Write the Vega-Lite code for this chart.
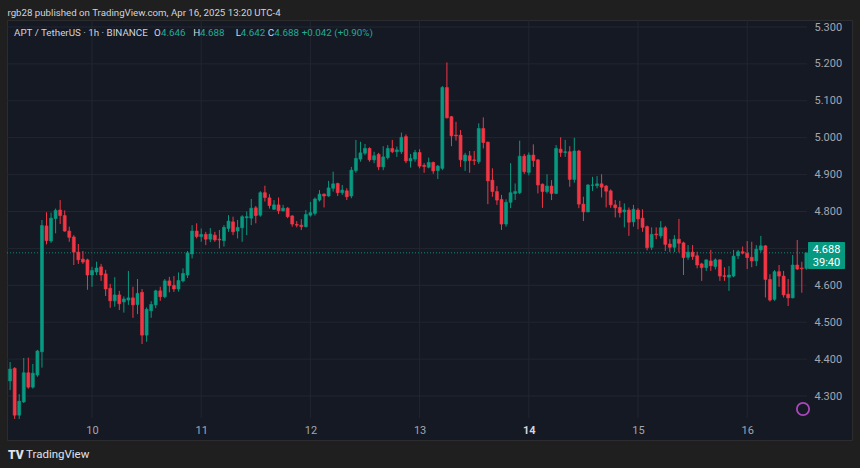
{
  "$schema": "https://vega.github.io/schema/vega-lite/v6.json",
  "width": 845,
  "height": 420,
  "autosize": {"type": "none"},
  "padding": {"left": 7, "top": 20, "right": 8, "bottom": 28},
  "background": "#1f1f1f",
  "config": {
    "view": {"fill": "#151924", "stroke": "#2c2c2e", "strokeWidth": 1},
    "font": "Roboto",
    "axis": {"titleOpacity": 0, "grid": false, "domain": false, "ticks": false, "tickSize": 0, "labelFont": "Roboto", "labelFontSize": 11}
  },
  "datasets": {
    "candles": [
      {"t":"2025-04-09T06:00Z","o":4.341,"h":4.392,"l":4.316,"c":4.373},
      {"t":"2025-04-09T07:00Z","o":4.375,"h":4.378,"l":4.238,"c":4.248},
      {"t":"2025-04-09T08:00Z","o":4.248,"h":4.305,"l":4.238,"c":4.286},
      {"t":"2025-04-09T09:00Z","o":4.284,"h":4.403,"l":4.281,"c":4.363},
      {"t":"2025-04-09T10:00Z","o":4.363,"h":4.404,"l":4.320,"c":4.324},
      {"t":"2025-04-09T11:00Z","o":4.324,"h":4.387,"l":4.320,"c":4.362},
      {"t":"2025-04-09T12:00Z","o":4.357,"h":4.425,"l":4.352,"c":4.422},
      {"t":"2025-04-09T13:00Z","o":4.420,"h":4.777,"l":4.377,"c":4.762},
      {"t":"2025-04-09T14:00Z","o":4.761,"h":4.798,"l":4.711,"c":4.721},
      {"t":"2025-04-09T15:00Z","o":4.720,"h":4.797,"l":4.715,"c":4.782},
      {"t":"2025-04-09T16:00Z","o":4.781,"h":4.808,"l":4.741,"c":4.803},
      {"t":"2025-04-09T17:00Z","o":4.804,"h":4.831,"l":4.766,"c":4.789},
      {"t":"2025-04-09T18:00Z","o":4.789,"h":4.803,"l":4.745,"c":4.747},
      {"t":"2025-04-09T19:00Z","o":4.747,"h":4.759,"l":4.718,"c":4.730},
      {"t":"2025-04-09T20:00Z","o":4.731,"h":4.736,"l":4.655,"c":4.690},
      {"t":"2025-04-09T21:00Z","o":4.690,"h":4.712,"l":4.658,"c":4.669},
      {"t":"2025-04-09T22:00Z","o":4.671,"h":4.693,"l":4.658,"c":4.663},
      {"t":"2025-04-09T23:00Z","o":4.669,"h":4.672,"l":4.588,"c":4.628},
      {"t":"2025-04-10T00:00Z","o":4.628,"h":4.650,"l":4.596,"c":4.640},
      {"t":"2025-04-10T01:00Z","o":4.636,"h":4.664,"l":4.628,"c":4.647},
      {"t":"2025-04-10T02:00Z","o":4.650,"h":4.658,"l":4.612,"c":4.628},
      {"t":"2025-04-10T03:00Z","o":4.631,"h":4.642,"l":4.571,"c":4.590},
      {"t":"2025-04-10T04:00Z","o":4.592,"h":4.604,"l":4.539,"c":4.558},
      {"t":"2025-04-10T05:00Z","o":4.558,"h":4.622,"l":4.542,"c":4.574},
      {"t":"2025-04-10T06:00Z","o":4.574,"h":4.585,"l":4.533,"c":4.550},
      {"t":"2025-04-10T07:00Z","o":4.555,"h":4.570,"l":4.526,"c":4.563},
      {"t":"2025-04-10T08:00Z","o":4.560,"h":4.639,"l":4.547,"c":4.566},
      {"t":"2025-04-10T09:00Z","o":4.566,"h":4.596,"l":4.512,"c":4.547},
      {"t":"2025-04-10T10:00Z","o":4.548,"h":4.617,"l":4.522,"c":4.578},
      {"t":"2025-04-10T11:00Z","o":4.581,"h":4.590,"l":4.441,"c":4.465},
      {"t":"2025-04-10T12:00Z","o":4.465,"h":4.540,"l":4.447,"c":4.535},
      {"t":"2025-04-10T13:00Z","o":4.531,"h":4.557,"l":4.512,"c":4.548},
      {"t":"2025-04-10T14:00Z","o":4.547,"h":4.588,"l":4.538,"c":4.585},
      {"t":"2025-04-10T15:00Z","o":4.585,"h":4.596,"l":4.558,"c":4.569},
      {"t":"2025-04-10T16:00Z","o":4.569,"h":4.617,"l":4.565,"c":4.612},
      {"t":"2025-04-10T17:00Z","o":4.612,"h":4.623,"l":4.581,"c":4.599},
      {"t":"2025-04-10T18:00Z","o":4.600,"h":4.625,"l":4.582,"c":4.590},
      {"t":"2025-04-10T19:00Z","o":4.590,"h":4.635,"l":4.583,"c":4.613},
      {"t":"2025-04-10T20:00Z","o":4.612,"h":4.646,"l":4.608,"c":4.632},
      {"t":"2025-04-10T21:00Z","o":4.628,"h":4.693,"l":4.620,"c":4.688},
      {"t":"2025-04-10T22:00Z","o":4.685,"h":4.763,"l":4.673,"c":4.747},
      {"t":"2025-04-10T23:00Z","o":4.747,"h":4.768,"l":4.727,"c":4.732},
      {"t":"2025-04-11T00:00Z","o":4.732,"h":4.754,"l":4.718,"c":4.738},
      {"t":"2025-04-11T01:00Z","o":4.738,"h":4.745,"l":4.709,"c":4.725},
      {"t":"2025-04-11T02:00Z","o":4.725,"h":4.755,"l":4.717,"c":4.739},
      {"t":"2025-04-11T03:00Z","o":4.736,"h":4.745,"l":4.718,"c":4.723},
      {"t":"2025-04-11T04:00Z","o":4.725,"h":4.750,"l":4.700,"c":4.723},
      {"t":"2025-04-11T05:00Z","o":4.721,"h":4.763,"l":4.705,"c":4.757},
      {"t":"2025-04-11T06:00Z","o":4.754,"h":4.790,"l":4.745,"c":4.774},
      {"t":"2025-04-11T07:00Z","o":4.772,"h":4.786,"l":4.736,"c":4.745},
      {"t":"2025-04-11T08:00Z","o":4.747,"h":4.777,"l":4.727,"c":4.757},
      {"t":"2025-04-11T09:00Z","o":4.756,"h":4.790,"l":4.718,"c":4.786},
      {"t":"2025-04-11T10:00Z","o":4.783,"h":4.800,"l":4.736,"c":4.786},
      {"t":"2025-04-11T11:00Z","o":4.782,"h":4.834,"l":4.763,"c":4.809},
      {"t":"2025-04-11T12:00Z","o":4.810,"h":4.815,"l":4.768,"c":4.789},
      {"t":"2025-04-11T13:00Z","o":4.790,"h":4.855,"l":4.786,"c":4.851},
      {"t":"2025-04-11T14:00Z","o":4.851,"h":4.870,"l":4.827,"c":4.838},
      {"t":"2025-04-11T15:00Z","o":4.837,"h":4.847,"l":4.808,"c":4.816},
      {"t":"2025-04-11T16:00Z","o":4.806,"h":4.831,"l":4.804,"c":4.818},
      {"t":"2025-04-11T17:00Z","o":4.818,"h":4.838,"l":4.793,"c":4.802},
      {"t":"2025-04-11T18:00Z","o":4.802,"h":4.818,"l":4.800,"c":4.809},
      {"t":"2025-04-11T19:00Z","o":4.809,"h":4.812,"l":4.782,"c":4.786},
      {"t":"2025-04-11T20:00Z","o":4.788,"h":4.790,"l":4.759,"c":4.766},
      {"t":"2025-04-11T21:00Z","o":4.765,"h":4.774,"l":4.757,"c":4.763},
      {"t":"2025-04-11T22:00Z","o":4.763,"h":4.779,"l":4.750,"c":4.759},
      {"t":"2025-04-11T23:00Z","o":4.759,"h":4.804,"l":4.757,"c":4.792},
      {"t":"2025-04-12T00:00Z","o":4.790,"h":4.826,"l":4.786,"c":4.797},
      {"t":"2025-04-12T01:00Z","o":4.795,"h":4.838,"l":4.789,"c":4.834},
      {"t":"2025-04-12T02:00Z","o":4.831,"h":4.858,"l":4.827,"c":4.847},
      {"t":"2025-04-12T03:00Z","o":4.847,"h":4.849,"l":4.811,"c":4.842},
      {"t":"2025-04-12T04:00Z","o":4.842,"h":4.883,"l":4.840,"c":4.864},
      {"t":"2025-04-12T05:00Z","o":4.863,"h":4.908,"l":4.854,"c":4.875},
      {"t":"2025-04-12T06:00Z","o":4.876,"h":4.878,"l":4.842,"c":4.851},
      {"t":"2025-04-12T07:00Z","o":4.851,"h":4.872,"l":4.845,"c":4.858},
      {"t":"2025-04-12T08:00Z","o":4.856,"h":4.863,"l":4.831,"c":4.840},
      {"t":"2025-04-12T09:00Z","o":4.842,"h":4.921,"l":4.836,"c":4.912},
      {"t":"2025-04-12T10:00Z","o":4.911,"h":4.994,"l":4.905,"c":4.944},
      {"t":"2025-04-12T11:00Z","o":4.942,"h":4.989,"l":4.935,"c":4.959},
      {"t":"2025-04-12T12:00Z","o":4.958,"h":4.983,"l":4.953,"c":4.971},
      {"t":"2025-04-12T13:00Z","o":4.971,"h":4.974,"l":4.935,"c":4.940},
      {"t":"2025-04-12T14:00Z","o":4.940,"h":4.962,"l":4.931,"c":4.951},
      {"t":"2025-04-12T15:00Z","o":4.955,"h":4.959,"l":4.912,"c":4.921},
      {"t":"2025-04-12T16:00Z","o":4.921,"h":4.977,"l":4.912,"c":4.948},
      {"t":"2025-04-12T17:00Z","o":4.946,"h":4.980,"l":4.941,"c":4.971},
      {"t":"2025-04-12T18:00Z","o":4.971,"h":4.994,"l":4.958,"c":4.962},
      {"t":"2025-04-12T19:00Z","o":4.962,"h":4.976,"l":4.948,"c":4.967},
      {"t":"2025-04-12T20:00Z","o":4.962,"h":5.014,"l":4.956,"c":5.001},
      {"t":"2025-04-12T21:00Z","o":5.003,"h":5.009,"l":4.931,"c":4.937},
      {"t":"2025-04-12T22:00Z","o":4.937,"h":4.956,"l":4.919,"c":4.944},
      {"t":"2025-04-12T23:00Z","o":4.942,"h":4.967,"l":4.935,"c":4.960},
      {"t":"2025-04-13T00:00Z","o":4.960,"h":4.969,"l":4.917,"c":4.923},
      {"t":"2025-04-13T01:00Z","o":4.925,"h":4.931,"l":4.905,"c":4.922},
      {"t":"2025-04-13T02:00Z","o":4.920,"h":4.946,"l":4.917,"c":4.933},
      {"t":"2025-04-13T03:00Z","o":4.933,"h":4.935,"l":4.902,"c":4.910},
      {"t":"2025-04-13T04:00Z","o":4.911,"h":4.926,"l":4.888,"c":4.923},
      {"t":"2025-04-13T05:00Z","o":4.917,"h":5.140,"l":4.912,"c":5.136},
      {"t":"2025-04-13T06:00Z","o":5.136,"h":5.204,"l":5.052,"c":5.054},
      {"t":"2025-04-13T07:00Z","o":5.057,"h":5.059,"l":4.977,"c":5.005},
      {"t":"2025-04-13T08:00Z","o":5.007,"h":5.043,"l":4.992,"c":5.005},
      {"t":"2025-04-13T09:00Z","o":5.007,"h":5.021,"l":4.921,"c":4.940},
      {"t":"2025-04-13T10:00Z","o":4.937,"h":4.959,"l":4.910,"c":4.953},
      {"t":"2025-04-13T11:00Z","o":4.951,"h":4.964,"l":4.905,"c":4.938},
      {"t":"2025-04-13T12:00Z","o":4.940,"h":4.964,"l":4.926,"c":4.938},
      {"t":"2025-04-13T13:00Z","o":4.935,"h":5.039,"l":4.929,"c":5.025},
      {"t":"2025-04-13T14:00Z","o":5.025,"h":5.055,"l":4.971,"c":4.987},
      {"t":"2025-04-13T15:00Z","o":4.988,"h":4.989,"l":4.820,"c":4.883},
      {"t":"2025-04-13T16:00Z","o":4.885,"h":4.917,"l":4.840,"c":4.854},
      {"t":"2025-04-13T17:00Z","o":4.854,"h":4.869,"l":4.818,"c":4.831},
      {"t":"2025-04-13T18:00Z","o":4.833,"h":4.845,"l":4.750,"c":4.766},
      {"t":"2025-04-13T19:00Z","o":4.766,"h":4.833,"l":4.759,"c":4.825},
      {"t":"2025-04-13T20:00Z","o":4.825,"h":4.931,"l":4.809,"c":4.851},
      {"t":"2025-04-13T21:00Z","o":4.849,"h":4.876,"l":4.831,"c":4.854},
      {"t":"2025-04-13T22:00Z","o":4.851,"h":4.992,"l":4.847,"c":4.950},
      {"t":"2025-04-13T23:00Z","o":4.950,"h":4.956,"l":4.902,"c":4.908},
      {"t":"2025-04-14T00:00Z","o":4.906,"h":4.960,"l":4.898,"c":4.953},
      {"t":"2025-04-14T01:00Z","o":4.953,"h":4.982,"l":4.921,"c":4.938},
      {"t":"2025-04-14T02:00Z","o":4.940,"h":4.942,"l":4.849,"c":4.872},
      {"t":"2025-04-14T03:00Z","o":4.874,"h":4.876,"l":4.810,"c":4.854},
      {"t":"2025-04-14T04:00Z","o":4.854,"h":4.901,"l":4.849,"c":4.869},
      {"t":"2025-04-14T05:00Z","o":4.869,"h":4.885,"l":4.831,"c":4.849},
      {"t":"2025-04-14T06:00Z","o":4.849,"h":4.980,"l":4.847,"c":4.971},
      {"t":"2025-04-14T07:00Z","o":4.969,"h":5.001,"l":4.948,"c":4.960},
      {"t":"2025-04-14T08:00Z","o":4.960,"h":4.994,"l":4.948,"c":4.962},
      {"t":"2025-04-14T09:00Z","o":4.962,"h":4.977,"l":4.867,"c":4.887},
      {"t":"2025-04-14T10:00Z","o":4.887,"h":5.000,"l":4.878,"c":4.964},
      {"t":"2025-04-14T11:00Z","o":4.964,"h":4.967,"l":4.809,"c":4.820},
      {"t":"2025-04-14T12:00Z","o":4.820,"h":4.840,"l":4.774,"c":4.799},
      {"t":"2025-04-14T13:00Z","o":4.799,"h":4.874,"l":4.798,"c":4.872},
      {"t":"2025-04-14T14:00Z","o":4.871,"h":4.894,"l":4.856,"c":4.872},
      {"t":"2025-04-14T15:00Z","o":4.870,"h":4.896,"l":4.863,"c":4.875},
      {"t":"2025-04-14T16:00Z","o":4.875,"h":4.901,"l":4.838,"c":4.866},
      {"t":"2025-04-14T17:00Z","o":4.869,"h":4.872,"l":4.811,"c":4.855},
      {"t":"2025-04-14T18:00Z","o":4.856,"h":4.860,"l":4.810,"c":4.818},
      {"t":"2025-04-14T19:00Z","o":4.818,"h":4.831,"l":4.784,"c":4.810},
      {"t":"2025-04-14T20:00Z","o":4.811,"h":4.829,"l":4.784,"c":4.797},
      {"t":"2025-04-14T21:00Z","o":4.799,"h":4.822,"l":4.757,"c":4.804},
      {"t":"2025-04-14T22:00Z","o":4.804,"h":4.811,"l":4.734,"c":4.771},
      {"t":"2025-04-14T23:00Z","o":4.772,"h":4.818,"l":4.759,"c":4.806},
      {"t":"2025-04-15T00:00Z","o":4.804,"h":4.809,"l":4.752,"c":4.780},
      {"t":"2025-04-15T01:00Z","o":4.782,"h":4.806,"l":4.745,"c":4.757},
      {"t":"2025-04-15T02:00Z","o":4.759,"h":4.762,"l":4.695,"c":4.702},
      {"t":"2025-04-15T03:00Z","o":4.703,"h":4.757,"l":4.696,"c":4.738},
      {"t":"2025-04-15T04:00Z","o":4.739,"h":4.757,"l":4.725,"c":4.737},
      {"t":"2025-04-15T05:00Z","o":4.734,"h":4.774,"l":4.727,"c":4.756},
      {"t":"2025-04-15T06:00Z","o":4.756,"h":4.761,"l":4.693,"c":4.711},
      {"t":"2025-04-15T07:00Z","o":4.712,"h":4.725,"l":4.690,"c":4.703},
      {"t":"2025-04-15T08:00Z","o":4.703,"h":4.736,"l":4.690,"c":4.725},
      {"t":"2025-04-15T09:00Z","o":4.725,"h":4.780,"l":4.689,"c":4.714},
      {"t":"2025-04-15T10:00Z","o":4.715,"h":4.718,"l":4.628,"c":4.675},
      {"t":"2025-04-15T11:00Z","o":4.676,"h":4.709,"l":4.669,"c":4.690},
      {"t":"2025-04-15T12:00Z","o":4.690,"h":4.709,"l":4.669,"c":4.678},
      {"t":"2025-04-15T13:00Z","o":4.680,"h":4.691,"l":4.646,"c":4.655},
      {"t":"2025-04-15T14:00Z","o":4.658,"h":4.661,"l":4.612,"c":4.648},
      {"t":"2025-04-15T15:00Z","o":4.648,"h":4.670,"l":4.639,"c":4.669},
      {"t":"2025-04-15T16:00Z","o":4.666,"h":4.696,"l":4.639,"c":4.653},
      {"t":"2025-04-15T17:00Z","o":4.651,"h":4.673,"l":4.643,"c":4.669},
      {"t":"2025-04-15T18:00Z","o":4.669,"h":4.670,"l":4.612,"c":4.625},
      {"t":"2025-04-15T19:00Z","o":4.626,"h":4.649,"l":4.612,"c":4.624},
      {"t":"2025-04-15T20:00Z","o":4.622,"h":4.652,"l":4.585,"c":4.628},
      {"t":"2025-04-15T21:00Z","o":4.625,"h":4.696,"l":4.622,"c":4.679},
      {"t":"2025-04-15T22:00Z","o":4.680,"h":4.696,"l":4.671,"c":4.691},
      {"t":"2025-04-15T23:00Z","o":4.691,"h":4.705,"l":4.684,"c":4.687},
      {"t":"2025-04-16T00:00Z","o":4.687,"h":4.720,"l":4.644,"c":4.675},
      {"t":"2025-04-16T01:00Z","o":4.676,"h":4.718,"l":4.649,"c":4.666},
      {"t":"2025-04-16T02:00Z","o":4.666,"h":4.709,"l":4.652,"c":4.698},
      {"t":"2025-04-16T03:00Z","o":4.696,"h":4.734,"l":4.690,"c":4.707},
      {"t":"2025-04-16T04:00Z","o":4.707,"h":4.709,"l":4.567,"c":4.616},
      {"t":"2025-04-16T05:00Z","o":4.616,"h":4.630,"l":4.556,"c":4.560},
      {"t":"2025-04-16T06:00Z","o":4.562,"h":4.641,"l":4.558,"c":4.637},
      {"t":"2025-04-16T07:00Z","o":4.637,"h":4.655,"l":4.596,"c":4.625},
      {"t":"2025-04-16T08:00Z","o":4.625,"h":4.639,"l":4.567,"c":4.574},
      {"t":"2025-04-16T09:00Z","o":4.576,"h":4.617,"l":4.544,"c":4.566},
      {"t":"2025-04-16T10:00Z","o":4.566,"h":4.682,"l":4.565,"c":4.655},
      {"t":"2025-04-16T11:00Z","o":4.655,"h":4.723,"l":4.642,"c":4.644},
      {"t":"2025-04-16T12:00Z","o":4.647,"h":4.664,"l":4.580,"c":4.645},
      {"t":"2025-04-16T13:00Z","o":4.646,"h":4.688,"l":4.642,"c":4.688}
    ],
    "days": [
      {"d":"2025-04-10T00:00Z"},{"d":"2025-04-11T00:00Z"},{"d":"2025-04-12T00:00Z"},{"d":"2025-04-13T00:00Z"},
      {"d":"2025-04-14T00:00Z"},{"d":"2025-04-15T00:00Z"},{"d":"2025-04-16T00:00Z"}
    ],
    "levels": [
      {"p":4.3},{"p":4.4},{"p":4.5},{"p":4.6},{"p":4.7},{"p":4.8},{"p":4.9},{"p":5.0},{"p":5.1},{"p":5.2},{"p":5.3}
    ]
  },
  "layer": [
    {
      "data": {"name": "days"},
      "mark": {"type": "rule", "color": "#22262f", "strokeWidth": 1},
      "encoding": {
        "x": {
          "field": "d", "type": "temporal", "title": null,
          "scale": {"type": "utc", "nice": false, "padding": 0, "domain": [
            {"year": 2025, "month": 4, "date": 9, "hours": 5, "minutes": 19, "utc": true},
            {"year": 2025, "month": 4, "date": 16, "hours": 23, "minutes": 2, "utc": true}
          ]},
          "axis": {
            "orient": "bottom",
            "offset": -10,
            "labelPadding": 0,
            "labelBaseline": "middle",
            "labelFontSize": 11,
            "labelExpr": "utcFormat(datum.value, '%-d')",
            "labelFontWeight": {"condition": {"test": "utcdate(datum.value) == 14", "value": "bold"}, "value": "normal"},
            "labelColor": {"condition": {"test": "utcdate(datum.value) == 14", "value": "#d1d4dc"}, "value": "#a3a6af"},
            "values": [
              {"year": 2025, "month": 4, "date": 10, "utc": true},
              {"year": 2025, "month": 4, "date": 11, "utc": true},
              {"year": 2025, "month": 4, "date": 12, "utc": true},
              {"year": 2025, "month": 4, "date": 13, "utc": true},
              {"year": 2025, "month": 4, "date": 14, "utc": true},
              {"year": 2025, "month": 4, "date": 15, "utc": true},
              {"year": 2025, "month": 4, "date": 16, "utc": true}
            ]
          }
        },
        "y": {
          "datum": 4.2404, "type": "quantitative", "title": null,
          "scale": {"domain": [4.1808, 5.319], "nice": false, "zero": false, "padding": 0},
          "axis": {
            "orient": "right",
            "offset": -38,
            "labelPadding": 0,
            "labelAlign": "left",
            "labelColor": "#a3a6af",
            "labelFontSize": 11,
            "format": ".3f",
            "values": [4.3, 4.4, 4.5, 4.6, 4.7, 4.8, 4.9, 5.0, 5.1, 5.2, 5.3]
          }
        },
        "y2": {"datum": 5.319}
      }
    },
    {
      "data": {"name": "levels"},
      "mark": {"type": "rule", "color": "#22262f", "strokeWidth": 1},
      "encoding": {
        "y": {"field": "p", "type": "quantitative", "title": null},
        "x": {"datum": {"year": 2025, "month": 4, "date": 9, "hours": 5, "minutes": 19, "utc": true}, "type": "temporal"},
        "x2": {"datum": {"year": 2025, "month": 4, "date": 16, "hours": 13, "minutes": 8, "utc": true}}
      }
    },
    {
      "data": {"values": [{}]},
      "mark": {"type": "rule", "color": "#089981", "strokeWidth": 1, "strokeDash": [1, 2], "opacity": 0.9},
      "encoding": {
        "y": {"datum": 4.688, "type": "quantitative"},
        "x": {"datum": {"year": 2025, "month": 4, "date": 9, "hours": 5, "minutes": 19, "utc": true}, "type": "temporal"},
        "x2": {"datum": {"year": 2025, "month": 4, "date": 16, "hours": 13, "minutes": 22, "utc": true}}
      }
    },
    {
      "data": {"name": "candles"},
      "mark": {"type": "rule", "strokeWidth": 1},
      "encoding": {
        "x": {"field": "t", "type": "temporal", "title": null},
        "y": {"field": "l", "type": "quantitative", "title": null},
        "y2": {"field": "h"},
        "color": {"condition": {"test": "datum.c >= datum.o", "value": "#089981"}, "value": "#f23645"}
      }
    },
    {
      "data": {"name": "candles"},
      "mark": {"type": "bar", "width": 3, "strokeWidth": 0.6},
      "encoding": {
        "x": {"field": "t", "type": "temporal", "title": null},
        "y": {"field": "o", "type": "quantitative", "title": null},
        "y2": {"field": "c"},
        "color": {"condition": {"test": "datum.c >= datum.o", "value": "#089981"}, "value": "#f23645"},
        "stroke": {"condition": {"test": "datum.c >= datum.o", "value": "#089981"}, "value": "#f23645"}
      }
    },
    {
      "data": {"values": [{}]},
      "mark": {"type": "rect", "color": "#089981", "cornerRadius": 1},
      "encoding": {
        "x": {"datum": {"year": 2025, "month": 4, "date": 16, "hours": 13, "minutes": 22, "utc": true}, "type": "temporal"},
        "x2": {"datum": {"year": 2025, "month": 4, "date": 16, "hours": 21, "minutes": 30, "utc": true}},
        "y": {"datum": 4.7174, "type": "quantitative"},
        "y2": {"datum": 4.6442}
      }
    },
    {
      "data": {"values": [{}]},
      "mark": {"type": "text", "text": "4.688", "color": "#ffffff", "fontSize": 11, "align": "center", "baseline": "middle"},
      "encoding": {
        "x": {"datum": {"year": 2025, "month": 4, "date": 16, "hours": 17, "minutes": 26, "utc": true}, "type": "temporal"},
        "y": {"datum": 4.6957, "type": "quantitative"}
      }
    },
    {
      "data": {"values": [{}]},
      "mark": {"type": "text", "text": "39:40", "color": "#ffffff", "fontSize": 11, "align": "center", "baseline": "middle"},
      "encoding": {
        "x": {"datum": {"year": 2025, "month": 4, "date": 16, "hours": 17, "minutes": 26, "utc": true}, "type": "temporal"},
        "y": {"datum": 4.6605, "type": "quantitative"}
      }
    },
    {
      "data": {"values": [{}]},
      "mark": {"type": "point", "shape": "circle", "filled": false, "size": 150, "stroke": "#ab47bc", "strokeWidth": 1.8, "opacity": 1},
      "encoding": {
        "x": {"datum": {"year": 2025, "month": 4, "date": 16, "hours": 12, "minutes": 16, "utc": true}, "type": "temporal"},
        "y": {"datum": 4.2648, "type": "quantitative"}
      }
    },
    {
      "data": {"values": [{}]},
      "mark": {"type": "text", "text": "rgb28 published on TradingView.com, Apr 16, 2025 13:20 UTC-4", "color": "#d1d4dc", "fontSize": 9.7, "align": "left", "baseline": "middle"},
      "encoding": {
        "x": {"datum": {"year": 2025, "month": 4, "date": 9, "hours": 5, "minutes": 25, "utc": true}, "type": "temporal"},
        "y": {"datum": 5.3388, "type": "quantitative"}
      }
    },
    {
      "data": {"values": [{}]},
      "mark": {"type": "text", "text": "APT / TetherUS · 1h · BINANCE", "color": "#d1d4dc", "fontSize": 9.8, "align": "left", "baseline": "middle"},
      "encoding": {
        "x": {"datum": {"year": 2025, "month": 4, "date": 9, "hours": 6, "minutes": 52, "utc": true}, "type": "temporal"},
        "y": {"datum": 5.283, "type": "quantitative"}
      }
    },
    {
      "data": {"values": [{}]},
      "mark": {"type": "text", "text": "O", "color": "#d1d4dc", "fontSize": 9.8, "align": "left", "baseline": "middle"},
      "encoding": {
        "x": {"datum": {"year": 2025, "month": 4, "date": 10, "hours": 13, "minutes": 38, "utc": true}, "type": "temporal"},
        "y": {"datum": 5.283, "type": "quantitative"}
      }
    },
    {
      "data": {"values": [{}]},
      "mark": {"type": "text", "text": "4.646", "color": "#22ab94", "fontSize": 9.8, "align": "left", "baseline": "middle"},
      "encoding": {
        "x": {"datum": {"year": 2025, "month": 4, "date": 10, "hours": 15, "minutes": 10, "utc": true}, "type": "temporal"},
        "y": {"datum": 5.283, "type": "quantitative"}
      }
    },
    {
      "data": {"values": [{}]},
      "mark": {"type": "text", "text": "H", "color": "#d1d4dc", "fontSize": 9.8, "align": "left", "baseline": "middle"},
      "encoding": {
        "x": {"datum": {"year": 2025, "month": 4, "date": 10, "hours": 22, "minutes": 16, "utc": true}, "type": "temporal"},
        "y": {"datum": 5.283, "type": "quantitative"}
      }
    },
    {
      "data": {"values": [{}]},
      "mark": {"type": "text", "text": "4.688", "color": "#22ab94", "fontSize": 9.8, "align": "left", "baseline": "middle"},
      "encoding": {
        "x": {"datum": {"year": 2025, "month": 4, "date": 10, "hours": 23, "minutes": 44, "utc": true}, "type": "temporal"},
        "y": {"datum": 5.283, "type": "quantitative"}
      }
    },
    {
      "data": {"values": [{}]},
      "mark": {"type": "text", "text": "L", "color": "#d1d4dc", "fontSize": 9.8, "align": "left", "baseline": "middle"},
      "encoding": {
        "x": {"datum": {"year": 2025, "month": 4, "date": 11, "hours": 7, "minutes": 35, "utc": true}, "type": "temporal"},
        "y": {"datum": 5.283, "type": "quantitative"}
      }
    },
    {
      "data": {"values": [{}]},
      "mark": {"type": "text", "text": "4.642", "color": "#22ab94", "fontSize": 9.8, "align": "left", "baseline": "middle"},
      "encoding": {
        "x": {"datum": {"year": 2025, "month": 4, "date": 11, "hours": 8, "minutes": 41, "utc": true}, "type": "temporal"},
        "y": {"datum": 5.283, "type": "quantitative"}
      }
    },
    {
      "data": {"values": [{}]},
      "mark": {"type": "text", "text": "C", "color": "#d1d4dc", "fontSize": 9.8, "align": "left", "baseline": "middle"},
      "encoding": {
        "x": {"datum": {"year": 2025, "month": 4, "date": 11, "hours": 14, "minutes": 37, "utc": true}, "type": "temporal"},
        "y": {"datum": 5.283, "type": "quantitative"}
      }
    },
    {
      "data": {"values": [{}]},
      "mark": {"type": "text", "text": "4.688", "color": "#22ab94", "fontSize": 9.8, "align": "left", "baseline": "middle"},
      "encoding": {
        "x": {"datum": {"year": 2025, "month": 4, "date": 11, "hours": 16, "minutes": 4, "utc": true}, "type": "temporal"},
        "y": {"datum": 5.283, "type": "quantitative"}
      }
    },
    {
      "data": {"values": [{}]},
      "mark": {"type": "text", "text": "+0.042 (+0.90%)", "color": "#22ab94", "fontSize": 9.8, "align": "left", "baseline": "middle"},
      "encoding": {
        "x": {"datum": {"year": 2025, "month": 4, "date": 11, "hours": 22, "minutes": 5, "utc": true}, "type": "temporal"},
        "y": {"datum": 5.283, "type": "quantitative"}
      }
    },
    {
      "data": {"values": [{}]},
      "mark": {"type": "text", "text": "TV", "color": "#e0e3eb", "fontSize": 12, "fontWeight": 900, "align": "left", "baseline": "middle"},
      "encoding": {
        "x": {"datum": {"year": 2025, "month": 4, "date": 9, "hours": 5, "minutes": 32, "utc": true}, "type": "temporal"},
        "y": {"datum": 4.1402, "type": "quantitative"}
      }
    },
    {
      "data": {"values": [{}]},
      "mark": {"type": "text", "text": "TradingView", "color": "#e0e3eb", "fontSize": 11.5, "align": "left", "baseline": "middle"},
      "encoding": {
        "x": {"datum": {"year": 2025, "month": 4, "date": 9, "hours": 9, "minutes": 30, "utc": true}, "type": "temporal"},
        "y": {"datum": 4.1402, "type": "quantitative"}
      }
    }
  ]
}
